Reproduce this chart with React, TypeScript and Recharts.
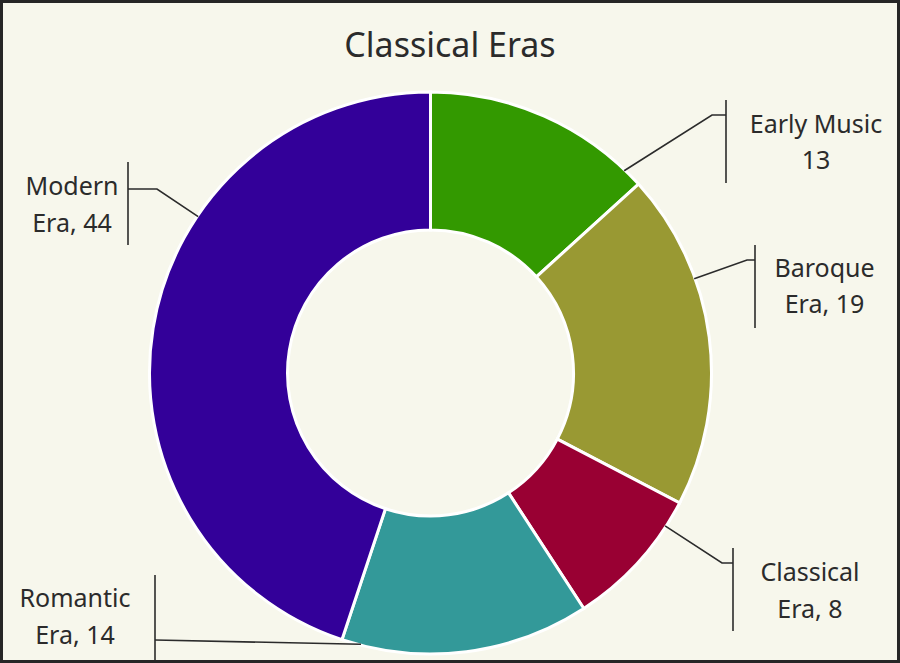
import React from 'react';
import { PieChart, Pie, Cell } from 'recharts';

const categories = ['Early Music', 'Baroque Era', 'Classical Era', 'Romantic Era', 'Modern Era'];
const values = [13, 19, 8, 14, 44];
const firstLines = ['Early Music', 'Baroque', 'Classical', 'Romantic', 'Modern'];
const colors = ['#339900', '#999933', '#990033', '#339999', '#330099'];
const title = 'Classical Eras';

// label placement, relative to the pie centre (px)
const labelLayout = [
  { barDx: 295.5, barTop: -273, barBottom: -190, elbowDx: 281.5, elbowDy: -258, textDx: 385.5, l1: -240, l2: -204 },
  { barDx: 324.5, barTop: -128, barBottom: -45, elbowDx: 316.5, elbowDy: -113, textDx: 394, l1: -96, l2: -60 },
  { barDx: 302.5, barTop: 175, barBottom: 258, elbowDx: 291.5, elbowDy: 190, textDx: 379.5, l1: 208, l2: 245 },
  { barDx: -275.5, barTop: 202, barBottom: 290, elbowDx: -275.5, elbowDy: 267, textDx: -355.5, l1: 234, l2: 271 },
  { barDx: -302.5, barTop: -211, barBottom: -128, elbowDx: -273.5, elbowDy: -184, textDx: -358.5, l1: -178, l2: -141 },
];

const data = categories.map((name, i) => ({ name, value: values[i] }));

const RAD = Math.PI / 180;
const INK = '#2b2b2b';
const FONT = '"Noto Sans", sans-serif';

function renderLabel(props: any) {
  const { cx, cy, outerRadius, startAngle, endAngle, index, value, name } = props;
  const L = labelLayout[index];
  const ex = cx + L.elbowDx;
  const ey = cy + L.elbowDy;
  let a = Math.atan2(-(ey - cy), ex - cx) / RAD;
  const lo = Math.min(startAngle, endAngle);
  const hi = Math.max(startAngle, endAngle);
  while (a < lo) a += 360;
  while (a >= lo + 360) a -= 360;
  const m = 4;
  if (a > hi - m) {
    const dHi = a - (hi - m);
    const dLo = lo + m + 360 - a;
    a = dHi < dLo ? hi - m : lo + m;
  }
  if (a < lo + m) a = lo + m;
  const r = outerRadius - 1;
  const ax = cx + r * Math.cos(a * RAD);
  const ay = cy - r * Math.sin(a * RAD);
  const bx = cx + L.barDx;
  const rest = name.slice(firstLines[index].length).trim();
  const second = rest ? `${rest}, ${value}` : `${value}`;
  return (
    <g key={`lbl-${index}`}>
      <polyline
        points={`${ax},${ay} ${ex},${ey} ${bx},${ey}`}
        fill="none"
        stroke={INK}
        strokeWidth={1.6}
      />
      <line x1={bx} y1={cy + L.barTop} x2={bx} y2={cy + L.barBottom} stroke={INK} strokeWidth={1.6} />
      <text x={cx + L.textDx} y={cy + L.l1} textAnchor="middle" fill={INK} fontSize={25} fontFamily={FONT}>
        {firstLines[index]}
      </text>
      <text x={cx + L.textDx} y={cy + L.l2} textAnchor="middle" fill={INK} fontSize={25} fontFamily={FONT}>
        {second}
      </text>
    </g>
  );
}

export default function App() {
  return (
    <div style={{ position: 'absolute', left: 0, top: 0, width: 900, height: 663, background: '#F7F7EC', overflow: 'hidden' }}>
      <div
        style={{
          position: 'absolute',
          left: 0,
          top: 24,
          width: 900,
          textAlign: 'center',
          fontFamily: FONT,
          fontSize: 34,
          color: INK,
          lineHeight: '40px',
          paddingLeft: 0,
        }}
      >
        {title}
      </div>
      <div style={{ position: 'absolute', left: 0, top: 0 }}>
        <PieChart width={900} height={663} margin={{ top: 0, right: 0, bottom: 0, left: 0 }}>
          <Pie
            data={data}
            dataKey="value"
            nameKey="name"
            cx={430.5}
            cy={373}
            innerRadius={143}
            outerRadius={281}
            startAngle={90}
            endAngle={-270}
            stroke="#ffffff"
            strokeWidth={3}
            label={renderLabel}
            labelLine={false}
            isAnimationActive={false}
          >
            {data.map((d, i) => (
              <Cell key={d.name} fill={colors[i]} />
            ))}
          </Pie>
        </PieChart>
      </div>
      <div
        style={{
          position: 'absolute',
          left: 0,
          top: 0,
          width: 900,
          height: 663,
          boxSizing: 'border-box',
          border: '3px solid #262626',
          pointerEvents: 'none',
        }}
      />
    </div>
  );
}
